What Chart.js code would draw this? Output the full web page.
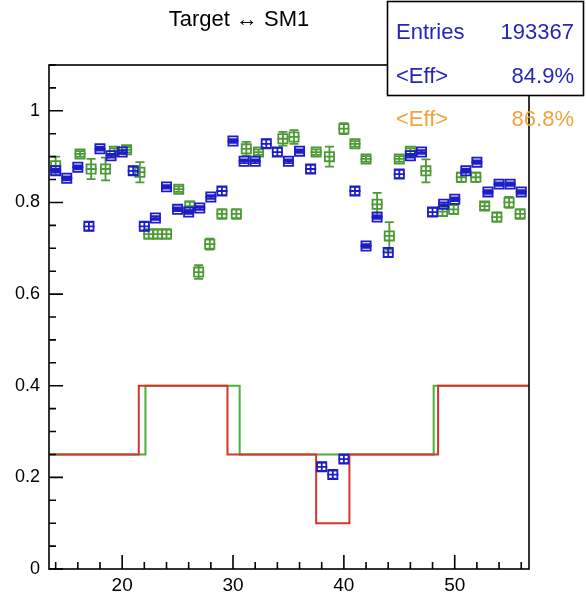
<!DOCTYPE html>
<html>
<head>
<meta charset="utf-8">
<title>Target ↔ SM1</title>
<script src="https://cdn.jsdelivr.net/npm/chart.js@4.4.1/dist/chart.umd.min.js"></script>
<style>
  body { margin: 0; background: #fff; }
  #box { width: 586px; height: 592px; }
</style>
</head>
<body>
<div id="box"><canvas id="effChart"></canvas></div>
<script>
// données
const blueBins = [14, 15, 16, 17, 18, 19, 20, 21, 22, 23, 24, 25, 26, 27, 28, 29, 30, 31, 32, 33, 34, 35,
                  36, 37, 38, 39, 40, 41, 42, 43, 44, 45, 46, 47, 48, 49, 50, 51, 52, 53, 54, 55, 56];
const blueEff = [0.869, 0.853, 0.877, 0.748, 0.917, 0.902, 0.910, 0.869, 0.748, 0.766, 0.834, 0.785, 0.779,
                 0.788, 0.812, 0.825, 0.934, 0.890, 0.890, 0.928, 0.910, 0.890, 0.912, 0.873, 0.223, 0.206,
                 0.240, 0.825, 0.705, 0.768, 0.691, 0.862, 0.902, 0.910, 0.779, 0.796, 0.807, 0.869, 0.888,
                 0.823, 0.840, 0.840, 0.823];
const blueErr = [0.004, 0.004, 0.004, 0.009, 0.004, 0.004, 0.004, 0.009, 0.009, 0.004, 0.004, 0.004, 0.004,
                 0.004, 0.004, 0.009, 0.004, 0.004, 0.004, 0.009, 0.009, 0.004, 0.004, 0.009, 0.009, 0.009,
                 0.009, 0.009, 0.004, 0.004, 0.010, 0.009, 0.004, 0.004, 0.009, 0.004, 0.004, 0.004, 0.004,
                 0.004, 0.004, 0.004, 0.004];

const greenBins = [14, 16.2, 17.2, 18.5, 19.3, 20.4, 21.6, 22.4, 23.2, 24.0, 25.1, 26.1, 26.9, 27.9, 29.0,
                   30.3, 31.2, 32.3, 34.5, 35.5, 37.5, 38.7, 40.0, 41.0, 42.0, 43.0, 44.1, 45.0, 46.0, 47.4,
                   48.9, 49.9, 50.6, 51.9, 52.7, 53.8, 54.9, 55.9];
const greenEff = [0.880, 0.906, 0.873, 0.873, 0.912, 0.915, 0.866, 0.731, 0.731, 0.731, 0.829, 0.792, 0.648,
                  0.709, 0.775, 0.775, 0.917, 0.910, 0.939, 0.943, 0.910, 0.900, 0.961, 0.928, 0.895, 0.796,
                  0.727, 0.895, 0.912, 0.869, 0.780, 0.785, 0.855, 0.855, 0.792, 0.768, 0.800, 0.775];
const greenErr = [0.020, 0.006, 0.022, 0.025, 0.006, 0.006, 0.022, 0.010, 0.010, 0.010, 0.006, 0.010, 0.015,
                  0.012, 0.010, 0.010, 0.015, 0.006, 0.015, 0.015, 0.006, 0.022, 0.012, 0.006, 0.006, 0.025,
                  0.030, 0.006, 0.006, 0.025, 0.010, 0.010, 0.010, 0.010, 0.008, 0.010, 0.012, 0.010];

// les deux courbes en escalier
const redEdges = [13.4, 21.5, 29.5, 37.5, 40.5, 48.5, 56.7];
const redLevels = [0.25, 0.4, 0.25, 0.1, 0.25, 0.4];
const greenEdges = [13.4, 22.1, 30.6, 48.1, 56.7];
const greenLevels = [0.25, 0.4, 0.25, 0.4];

const xMajor = [20, 30, 40, 50];
const yMajor = [0, 0.2, 0.4, 0.6, 0.8, 1];

const titleText = 'Target \u2194 SM1';
const entries = '193367';
const effBlue = '84.9%';
const effOrange = '86.8%';

const BLUE = '#1c1cc8';
const GREEN = '#4c9a34';
const FONT = '"Liberation Sans", Arial, Helvetica, sans-serif';

function points(xs, ys) {
    return xs.map((x, i) => ({ x: x, y: ys[i] }));
}
function steps(edges, levels) {
    let pts = edges.map((x, i) => ({ x: x, y: levels[Math.min(i, levels.length - 1)] }));
    return pts;
}
function isMajor(v, list) {
    return list.some((m) => Math.abs(v - m) < 1e-6);
}

// barres d'erreur dessinées après chaque jeu de points
const errorBars = {
    id: 'errorBars',
    afterDatasetDraw(chart, args) {
        const ds = chart.data.datasets[args.index];
        if (!ds.errors) return;
        const ctx = chart.ctx;
        const xs = chart.scales.x, ys = chart.scales.y;
        ctx.save();
        ctx.strokeStyle = ds.borderColor;
        ctx.lineWidth = 1.8;
        ds.data.forEach((p, i) => {
            const px = xs.getPixelForValue(p.x);
            const py = ys.getPixelForValue(p.y);
            const xl = xs.getPixelForValue(p.x - 0.5);
            const xr = xs.getPixelForValue(p.x + 0.5);
            const yt = ys.getPixelForValue(p.y + ds.errors[i]);
            const yb = ys.getPixelForValue(p.y - ds.errors[i]);
            ctx.beginPath();
            ctx.moveTo(xl, py); ctx.lineTo(xr, py);
            ctx.moveTo(px, yt); ctx.lineTo(px, yb);
            ctx.moveTo(px - 4.5, yt); ctx.lineTo(px + 4.5, yt);
            ctx.moveTo(px - 4.5, yb); ctx.lineTo(px + 4.5, yb);
            ctx.stroke();
        });
        ctx.restore();
    }
};

// cadre, graduations vers l'intérieur, titre et boîte de stats
const rootFrame = {
    id: 'rootFrame',
    afterDatasetsDraw(chart) {
        const ctx = chart.ctx;
        const a = chart.chartArea;
        const xs = chart.scales.x, ys = chart.scales.y;
        ctx.save();
        ctx.strokeStyle = '#000';
        ctx.lineWidth = 1.6;
        ctx.strokeRect(a.left, a.top, a.right - a.left, a.bottom - a.top);
        ctx.beginPath();
        xs.ticks.forEach((t) => {
            const px = xs.getPixelForValue(t.value);
            const len = isMajor(t.value, xMajor) ? 14 : 7;
            ctx.moveTo(px, a.bottom); ctx.lineTo(px, a.bottom - len);
        });
        ys.ticks.forEach((t) => {
            const py = ys.getPixelForValue(t.value);
            const len = isMajor(t.value, yMajor) ? 14 : 7;
            ctx.moveTo(a.left, py); ctx.lineTo(a.left + len, py);
        });
        ctx.stroke();
        ctx.restore();
    },
    afterDraw(chart) {
        const ctx = chart.ctx;
        ctx.save();
        ctx.fillStyle = '#000';
        ctx.font = '22px ' + FONT;
        ctx.textAlign = 'center';
        ctx.textBaseline = 'middle';
        ctx.fillText(titleText, 239, 20);

        ctx.fillStyle = '#fff';
        ctx.fillRect(387, 1, 197, 95);
        ctx.strokeStyle = '#000';
        ctx.lineWidth = 1.6;
        ctx.strokeRect(387.5, 1.5, 196, 94);

        ctx.font = '22px ' + FONT;
        ctx.fillStyle = '#2626b8';
        ctx.textAlign = 'left';
        ctx.fillText('Entries', 396, 33);
        ctx.fillText('<Eff>', 396, 77);
        ctx.textAlign = 'right';
        ctx.fillText(entries, 574, 33);
        ctx.fillText(effBlue, 574, 77);

        ctx.fillStyle = '#f2a43a';
        ctx.textAlign = 'left';
        ctx.fillText('<Eff>', 396, 120);
        ctx.textAlign = 'right';
        ctx.fillText(effOrange, 574, 120);
        ctx.restore();
    }
};

document.addEventListener('DOMContentLoaded', function () {
    var ctx = document.getElementById('effChart').getContext('2d');
    var effChart = new Chart(ctx, {
        type: 'scatter',
        data: {
            datasets: [
                {
                    label: 'blue',
                    data: points(blueBins, blueEff),
                    errors: blueErr,
                    borderColor: BLUE,
                    backgroundColor: 'rgba(0,0,0,0)',
                    pointStyle: 'rect',
                    pointRadius: 6.5,
                    pointBorderWidth: 1.8,
                    order: 0
                },
                {
                    label: 'green',
                    data: points(greenBins, greenEff),
                    errors: greenErr,
                    borderColor: GREEN,
                    backgroundColor: 'rgba(0,0,0,0)',
                    pointStyle: 'rect',
                    pointRadius: 6.5,
                    pointBorderWidth: 1.8,
                    order: 1
                },
                {
                    type: 'line',
                    label: 'red step',
                    data: steps(redEdges, redLevels),
                    borderColor: '#d8342c',
                    borderWidth: 2,
                    stepped: true,
                    pointRadius: 0,
                    fill: false,
                    order: 2
                },
                {
                    type: 'line',
                    label: 'green step',
                    data: steps(greenEdges, greenLevels),
                    borderColor: '#4aae38',
                    borderWidth: 2,
                    stepped: true,
                    pointRadius: 0,
                    fill: false,
                    order: 3
                }
            ]
        },
        options: {
            responsive: true,
            maintainAspectRatio: false,
            animation: false,
            layout: { padding: { left: 9, right: 57, top: 65, bottom: 0 } },
            plugins: {
                legend: { display: false },
                tooltip: { enabled: false },
                title: { display: false }
            },
            scales: {
                x: {
                    type: 'linear',
                    min: 13.4,
                    max: 56.7,
                    grid: { display: false, drawTicks: false },
                    border: { display: false },
                    afterFit: function (scale) { scale.height = 23; },
                    ticks: {
                        stepSize: 2,
                        includeBounds: false,
                        autoSkip: false,
                        maxRotation: 0,
                        padding: 5,
                        color: '#000',
                        font: { family: FONT, size: 19 },
                        callback: function (value) {
                            return isMajor(value, xMajor) ? String(Math.round(value)) : '';
                        }
                    }
                },
                y: {
                    min: 0,
                    max: 1.1,
                    grid: { display: false, drawTicks: false },
                    border: { display: false },
                    afterFit: function (scale) { scale.width = 40; },
                    ticks: {
                        stepSize: 0.05,
                        maxTicksLimit: 100,
                        includeBounds: false,
                        autoSkip: false,
                        padding: 9,
                        color: '#000',
                        font: { family: FONT, size: 18 },
                        callback: function (value) {
                            return isMajor(value, yMajor) ? String(Math.round(value * 10) / 10) : '';
                        }
                    }
                }
            }
        },
        plugins: [errorBars, rootFrame]
    });
});
</script>
</body>
</html>
